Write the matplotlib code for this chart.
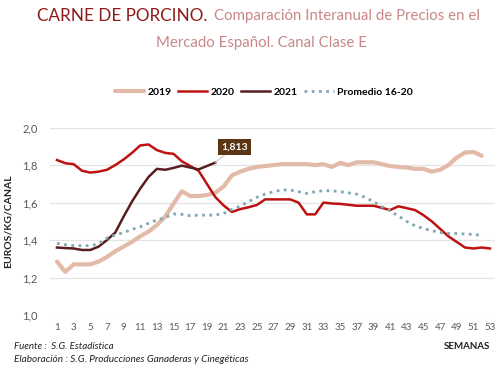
import numpy as np
import matplotlib
matplotlib.use("Agg")
import matplotlib.pyplot as plt

plt.rcParams["font.family"] = ["Lato", "DejaVu Sans"]

weeks = list(range(1, 54))

# precios semanales (EUR/kg canal)
p2019 = [1.285, 1.23, 1.27, 1.27, 1.27, 1.285, 1.31, 1.34, 1.365, 1.39,
         1.42, 1.445, 1.48, 1.525, 1.595, 1.66, 1.635, 1.635, 1.64, 1.652,
         1.685, 1.745, 1.765, 1.78, 1.79, 1.795, 1.80, 1.805, 1.805, 1.805,
         1.805, 1.80, 1.805, 1.79, 1.812, 1.80, 1.815, 1.815, 1.815, 1.805,
         1.795, 1.79, 1.787, 1.78, 1.78, 1.765, 1.775, 1.80, 1.84, 1.867,
         1.87, 1.85]
p2020 = [1.827, 1.81, 1.805, 1.77, 1.76, 1.765, 1.775, 1.80, 1.83, 1.865,
         1.905, 1.91, 1.88, 1.865, 1.86, 1.82, 1.795, 1.77, 1.70, 1.63,
         1.585, 1.55, 1.565, 1.575, 1.587, 1.617, 1.617, 1.617, 1.617, 1.60,
         1.537, 1.537, 1.60, 1.595, 1.593, 1.588, 1.583, 1.583, 1.583, 1.572,
         1.56, 1.58, 1.57, 1.56, 1.533, 1.50, 1.46, 1.42, 1.39, 1.36,
         1.355, 1.36, 1.355]
p2021 = [1.36, 1.357, 1.355, 1.347, 1.347, 1.365, 1.40, 1.44, 1.525, 1.605,
         1.675, 1.737, 1.78, 1.775, 1.785, 1.797, 1.787, 1.777, 1.795, 1.813]
prom = [1.382, 1.375, 1.37, 1.37, 1.37, 1.38, 1.41, 1.427, 1.44, 1.457,
        1.47, 1.49, 1.507, 1.52, 1.539, 1.537, 1.53, 1.533, 1.533, 1.533,
        1.542, 1.563, 1.581, 1.605, 1.628, 1.645, 1.658, 1.667, 1.667, 1.658,
        1.649, 1.658, 1.663, 1.663, 1.658, 1.652, 1.645, 1.628, 1.605, 1.578,
        1.556, 1.528, 1.50, 1.476, 1.462, 1.45, 1.44, 1.435, 1.435, 1.432,
        1.43, 1.425]

C19 = "#E3BAA8"
C20 = "#BE1212"
C21 = "#5A1E22"
CPR = "#7FA8B2"
GRIS = "#595959"

fig = plt.figure(figsize=(5, 3.71), dpi=100)
ax = fig.add_axes([0.1, 0.151, 0.89, 0.505])

ax.plot(weeks[:len(p2019)], p2019, color=C19, lw=3.0, label="2019", solid_capstyle="round")
ax.plot(weeks[:len(p2020)], p2020, color=C20, lw=1.8, label="2020")
ax.plot(weeks[:len(p2021)], p2021, color=C21, lw=1.8, label="2021")
ax.plot(weeks[:len(prom)], prom, color=CPR, lw=2.0, ls=(0, (1, 1.6)), label="Promedio 16-20")

ax.annotate("1,813", xy=(20, p2021[-1]), xytext=(22.3, 1.896),
            ha="center", va="center", color="white", fontsize=7.5, fontweight="bold",
            bbox=dict(boxstyle="square,pad=0.3", fc="#5B3514", ec="none"),
            arrowprops=dict(arrowstyle="-", color="#C8C8C8", lw=0.8, shrinkA=0, shrinkB=0))

ax.set_xlim(0.16, 53.6)
ax.set_ylim(1.0, 2.0)
ax.set_xticks(weeks[::2])
ax.set_yticks(np.arange(1.0, 2.01, 0.2))
ax.set_yticklabels([f"{v:.1f}".replace(".", ",") for v in np.arange(1.0, 2.01, 0.2)])
ax.tick_params(length=0, colors=GRIS)
ax.tick_params(axis="x", labelsize=7, pad=6)
ax.tick_params(axis="y", labelsize=8, pad=9)
ax.grid(axis="y", color="#E4E4E4", lw=0.9)
ax.set_axisbelow(True)
for s in ax.spines.values():
    s.set_visible(False)

ax.set_ylabel("EUROS/KG/CANAL", fontsize=7.5, fontweight="bold", color="#222222", labelpad=7)

fig.legend(loc="center", bbox_to_anchor=(0.528, 0.752), ncol=4, frameon=False,
           handlelength=2.8, columnspacing=0.6, handletextpad=0.35,
           prop={"weight": "bold", "size": 7.5})

# título en dos tramos: el primero oscuro, el resto más claro a continuación
r = fig.canvas.get_renderer()
t1 = fig.text(0.074, 0.958, "CARNE DE PORCINO.", fontsize=12.3, color="#8E1B1B",
              ha="left", va="center")
x1 = t1.get_window_extent(r).x1 / fig.bbox.width
fig.text(x1 + 0.014, 0.956, "Comparación Interanual de Precios en el", fontsize=10.8,
         color="#C98888", ha="left", va="center")
fig.text(0.523, 0.884, "Mercado Español. Canal Clase E", fontsize=10.8,
         color="#C98888", ha="center", va="center")

fig.text(0.028, 0.06, "Fuente :  S.G. Estadística", fontsize=7, style="italic", color="#222222")
fig.text(0.028, 0.025, "Elaboración : S.G. Producciones Ganaderas y Cinegéticas", fontsize=7.2,
         style="italic", color="#222222")
fig.text(0.98, 0.06, "SEMANAS", fontsize=7, fontweight="bold", color="#222222", ha="right")

fig.savefig("out.png", dpi=100)
